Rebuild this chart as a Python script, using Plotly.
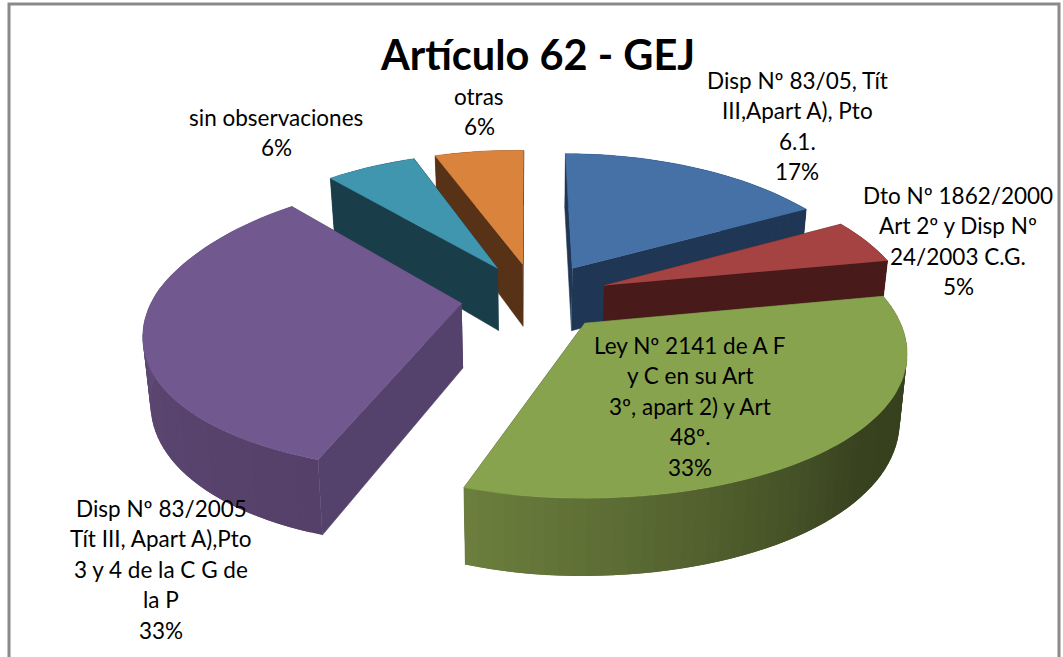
import numpy as np
import plotly.graph_objects as go

# ---- data ----
title_text = "Artículo 62 - GEJ"
categories = [
    "Disp Nº 83/05, Tít III,Apart A), Pto 6.1.",
    "Dto Nº 1862/2000 Art 2º y Disp Nº 24/2003 C.G.",
    "Ley Nº 2141 de A F y C en su Art 3º, apart 2) y Art 48º.",
    "Disp Nº 83/2005 Tít III, Apart A),Pto 3 y 4 de la C G de la P",
    "sin observaciones",
    "otras",
]
values = [17, 5, 33, 33, 6, 6]
label_lines = [
    ["Disp Nº 83/05, Tít", "III,Apart A), Pto", "6.1.", "17%"],
    ["Dto Nº 1862/2000", "Art 2º y Disp Nº", "24/2003 C.G.", "5%"],
    ["Ley Nº 2141 de A F", "y C en su Art", "3º, apart 2) y Art", "48º.", "33%"],
    ["Disp Nº 83/2005", "Tít III, Apart A),Pto", "3 y 4 de la C G de", "la P", "33%"],
    ["sin observaciones", "6%"],
    ["otras", "6%"],
]
label_x = [797, 958, 690, 161, 276, 479]
label_y0 = [80, 195, 345, 508, 117, 96]
top_colors = ["#4571a6", "#a54343", "#88a34e", "#71588f", "#4096ae", "#d9833c"]
cut_colors = ["#1f3655", "#481a1a", "#4d5c2b", "#55426c", "#1a3d4a", "#583216"]

# wall shading stops per slice: (angle in degrees, rgb)
wall_stops = [
    [(0, (31, 54, 85)), (62, (31, 54, 85))],
    [(61, (72, 26, 26)), (80, (72, 26, 26))],
    [(79, (52, 62, 28)), (130, (56, 66, 31)), (170, (88, 104, 50)), (198, (108, 127, 61))],
    [(198, (84, 64, 104)), (250, (90, 70, 112)), (290, (102, 80, 130)), (317, (102, 80, 130))],
    [(316, (26, 61, 74)), (339, (26, 61, 74))],
    [(338, (88, 50, 22)), (360, (88, 50, 22))],
]

# ---- projection settings ----
CX, CY = 535, 297
SX, SY = 305, 140
K = 0.15
KX = 0.19
VX = -30
QX = -4
WARP_X = 7
TILT = 5
EXPLODE = 0.243
HEIGHT = 64
SPLAY = 0.02


def project(x, y, base=False):
    p = 1 / (1 + K * y)
    px = 1 / (1 + KX * y)
    left = np.minimum(x, 0)
    sx = CX + SX * x * px + VX * (px - 1) + QX * y * y - WARP_X * left * np.maximum(y, 0)
    sy = CY - SY * y * p + TILT * left
    if base:
        sy = sy + HEIGHT * p
        sx = CX + (sx - CX) * (1 - SPLAY)
    return sx, sy


def shade(stops, a):
    angs = [s[0] for s in stops]
    rgb = [np.interp(a, angs, [s[1][i] for s in stops]) for i in range(3)]
    return "rgb(%d,%d,%d)" % tuple(int(round(c)) for c in rgb)


fig = go.Figure()


def poly(xs, ys, color, name, width=0.6):
    fig.add_trace(go.Scatter(
        x=list(xs), y=list(ys), mode="lines", fill="toself", fillcolor=color,
        line=dict(color=color, width=width), hoverinfo="skip", name=name, showlegend=False,
    ))


total = sum(values)
edges = np.cumsum([0] + values) / total * 360.0
order = [5, 4, 0, 1, 3, 2]

for i in order:
    a0, a1 = edges[i], edges[i + 1]
    mid = np.radians((a0 + a1) / 2)
    ax, ay = EXPLODE * np.sin(mid), EXPLODE * np.cos(mid)
    deg = np.linspace(a0, a1, max(8, int((a1 - a0) / 2)))
    rx = ax + np.sin(np.radians(deg))
    ry = ay + np.cos(np.radians(deg))
    name = categories[i]
    # cut faces
    for j in (0, -1):
        tx, ty = project(np.array([ax, rx[j]]), np.array([ay, ry[j]]))
        bx, by = project(np.array([ax, rx[j]]), np.array([ay, ry[j]]), base=True)
        poly([tx[0], tx[1], bx[1], bx[0]], [ty[0], ty[1], by[1], by[0]], cut_colors[i], name)
    # outer wall: strips overlap the next one so no seams show
    tx, ty = project(rx, ry)
    bx, by = project(rx, ry, base=True)
    m = len(deg)
    for n in range(m - 1):
        e = min(n + 2, m - 1)
        col = shade(wall_stops[i], (deg[n] + deg[n + 1]) / 2)
        poly([tx[k] for k in range(n, e + 1)] + [bx[k] for k in range(e, n - 1, -1)],
             [ty[k] for k in range(n, e + 1)] + [by[k] for k in range(e, n - 1, -1)], col, name, 0)
    # top surface
    ax_s, ay_s = project(np.array([ax]), np.array([ay]))
    poly([ax_s[0], *tx], [ay_s[0], *ty], top_colors[i], name)

annotations = []
LINE_STEP = 30.5
for lines, lx, ly in zip(label_lines, label_x, label_y0):
    for n, t in enumerate(lines):
        annotations.append(dict(
            x=lx, y=ly + n * LINE_STEP, xref="x", yref="y", text=t, showarrow=False,
            xanchor="center", yanchor="middle",
            font=dict(family="Lato", size=22.5, color="#000000"),
        ))

fig.update_layout(
    width=1063, height=657, autosize=False,
    margin=dict(l=0, r=0, t=0, b=0),
    paper_bgcolor="white", plot_bgcolor="white",
    showlegend=False,
    title=dict(text="<b>%s</b>" % title_text, x=538 / 1063, y=1 - 55 / 657,
               xanchor="center", yanchor="middle",
               font=dict(family="Lato", size=41.5, color="#000000")),
    xaxis=dict(range=[0, 1063], visible=False, fixedrange=True),
    yaxis=dict(range=[657, 0], visible=False, fixedrange=True),
    annotations=annotations,
    shapes=[dict(type="rect", xref="x", yref="y", x0=9, y0=4, x1=1059, y1=720,
                 line=dict(color="#8a8a8a", width=3), layer="below")],
)

fig.write_html("out.html", post_script="document.body.style.margin='0';",
               config={"displayModeBar": False})
